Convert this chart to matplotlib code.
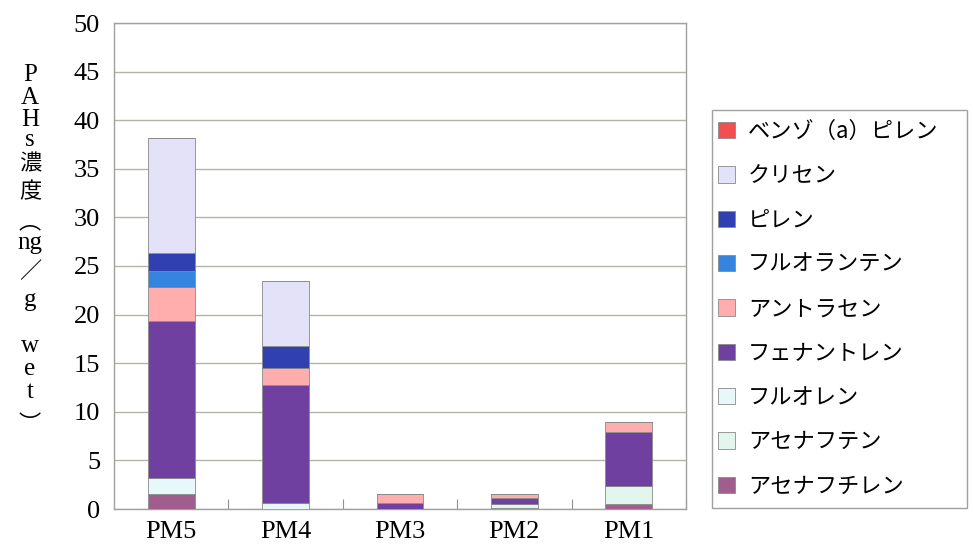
import numpy as np
import matplotlib
matplotlib.use("Agg")
import matplotlib.pyplot as plt
from matplotlib.patches import Rectangle

JP = ["Noto Sans CJK JP", "DejaVu Sans"]
SERIF = ["Liberation Serif", "DejaVu Serif"]

sites = ["PM5", "PM4", "PM3", "PM2", "PM1"]

# stacked from the bottom up (ng/g wet)
acenaphthylene = [1.5, 0.0, 0.0, 0.1, 0.55]
acenaphthene = [0.0, 0.0, 0.0, 0.4, 1.8]
fluorene = [1.7, 0.65, 0.0, 0.0, 0.0]
phenanthrene = [16.1, 12.1, 0.65, 0.6, 5.6]
anthracene = [3.5, 1.8, 0.85, 0.45, 1.0]
fluoranthene = [1.7, 0.0, 0.0, 0.0, 0.0]
pyrene = [1.8, 2.2, 0.0, 0.0, 0.0]
chrysene = [11.9, 6.7, 0.0, 0.0, 0.0]
benzo_a_pyrene = [0.0, 0.0, 0.0, 0.0, 0.0]

series = [
    ("アセナフチレン", acenaphthylene, "#A05E8E"),
    ("アセナフテン", acenaphthene, "#E2F6EE"),
    ("フルオレン", fluorene, "#E6F8FA"),
    ("フェナントレン", phenanthrene, "#7040A0"),
    ("アントラセン", anthracene, "#FFADAD"),
    ("フルオランテン", fluoranthene, "#3585E0"),
    ("ピレン", pyrene, "#3040B0"),
    ("クリセン", chrysene, "#E4E2F8"),
    ("ベンゾ（a）ピレン", benzo_a_pyrene, "#F25050"),
]

W, H = 973, 546
fig = plt.figure(figsize=(W / 100, H / 100), dpi=100)
ax = fig.add_axes([114 / W, 1 - 509 / H, 572 / W, 486 / H])

x = np.arange(len(sites))
bottom = np.zeros(len(sites))
handles = []
for name, vals, color in series:
    vals = np.asarray(vals, dtype=float)
    h = ax.bar(x, vals, 0.41, bottom=bottom, color=color,
               edgecolor="#8A8A8A", linewidth=0.6, label=name, zorder=3)
    handles.append(h)
    bottom += vals

ax.set_xlim(-0.5, len(sites) - 0.5)
ax.set_ylim(0, 50)
ax.set_yticks(np.arange(0, 51, 5))
ax.yaxis.grid(True, color="#B4B4A6", lw=1.0, zorder=0)
ax.set_axisbelow(True)
for sp in ax.spines.values():
    sp.set_color("#A0A0A0")
    sp.set_linewidth(1.0)

# labels sit at category centres, small inward ticks at the boundaries
ax.set_xticks(x + 0.5)
ax.set_xticklabels([])
ax.set_xticks(x, minor=True)
ax.set_xticklabels(sites, minor=True, fontsize=19, family=SERIF)
ax.tick_params(axis="x", which="major", direction="in", length=7,
               color="#909090")
ax.tick_params(axis="x", which="minor", length=0, pad=9)
ax.tick_params(axis="y", length=0, pad=10)
for t in ax.get_yticklabels():
    t.set_fontsize(19)
    t.set_family(SERIF)

# vertical y-axis title, one glyph per row
ylabel_chars = ["P", "A", "H", "s", "濃", "度", "︵", "ng", "／", "g",
                "w", "e", "t", "︶"]
ylabel_rows = [75, 98, 120, 140, 164, 192, 222, 243, 272, 300,
               346, 369, 392, 424]
for ch, row in zip(ylabel_chars, ylabel_rows):
    fam = JP if ch in ("濃", "度", "︵", "︶", "／") else SERIF
    fig.text(30 / W, 1 - row / H, ch, ha="center", va="center",
             fontsize=18 if fam is SERIF else 16, family=fam)

# legend frame spans down to the axis baseline
fig.patches.append(Rectangle((712 / W, 1 - 508 / H), 255 / W, 398 / H,
                             transform=fig.transFigure, fill=False,
                             edgecolor="#A0A0A0", lw=1.0))
leg = fig.legend(handles[::-1], [s[0] for s in series[::-1]],
                 loc="upper left", bbox_to_anchor=(718 / W, 1 - 120 / H),
                 frameon=False, prop={"family": JP, "size": 16},
                 handlelength=0.75, handleheight=0.75, handletextpad=0.6,
                 labelspacing=0.96, borderpad=0.0, borderaxespad=0.0)

fig.savefig("out.png", dpi=100, facecolor="white")
